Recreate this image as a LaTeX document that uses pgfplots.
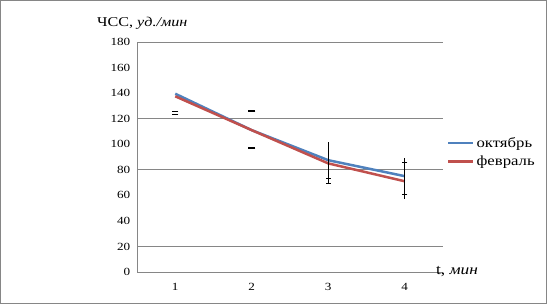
\documentclass[border=0pt]{standalone}
\usepackage{fontspec}
\setmainfont{Liberation Serif}[FakeStretch=1.2]
\usepackage{pgfplots}
\pgfplotsset{compat=1.18}
\definecolor{xlblue}{HTML}{4F81BD}
\definecolor{xlred}{HTML}{C0504D}
\definecolor{gridg}{HTML}{868686}
\begin{document}
\fontsize{10.5}{12}\selectfont
\begin{tikzpicture}[x=1bp,y=1bp]
\useasboundingbox (0,0) rectangle (547,304);
\draw[gridg, line width=1bp] (0.5,0.5) rectangle (546.5,303.5);
\begin{axis}[
  at={(137bp,32bp)}, anchor=origin,
  scale only axis, width=306bp, height=230bp,
  xmin=0.5, xmax=4.5, ymin=0, ymax=180,
  xtick={1,2,3,4}, ytick={0,20,...,180},
  extra y ticks={20,80,120,180}, extra y tick labels={},
  extra y tick style={grid=major, major grid style={gridg, line width=0.8bp}},
  axis x line*=bottom, axis y line*=left,
  axis line style={gridg, line width=0.8bp, -},
  major tick length=0pt,
  tick style={draw=none},
  /pgf/number format/assume math mode=true,
  ticklabel style={font=\fontsize{11}{13}\selectfont},
  xticklabel style={yshift=-8bp},
  yticklabel style={xshift=-3bp},
  clip=false,
  legend style={at={(1.013,0.52)}, anchor=west, draw=none, fill=none,
    font=\fontsize{14}{16}\selectfont, row sep=3bp, inner sep=0pt,
    /tikz/every even column/.append style={column sep=0pt}},
  legend cell align=left,
  legend image code/.code={\draw[#1, line width=2.4bp] (0bp,0bp) -- (25bp,0bp);},
]
\addplot[xlblue, line width=2.5bp] coordinates {(1,139.5) (2,111) (3,87.5) (4,75)};
\addlegendentry{октябрь}
\addplot[xlred, line width=2.5bp] coordinates {(1,137.5) (2,111) (3,85) (4,71)};
\addlegendentry{февраль}
\addplot[black, line width=0.9bp, forget plot] coordinates {(3,101.5) (3,69.4)};
\addplot[black, line width=0.9bp, forget plot] coordinates {(4,89) (4,56.9)};
\addplot[only marks, black, mark=-, mark size=2.7bp, mark options={line width=0.9bp}, forget plot]
  coordinates {(3,73.3) (3,69.4) (4,85.5) (4,60.8)};
\addplot[only marks, black, mark=-, mark size=3.5bp, mark options={line width=1.6bp}, forget plot]
  coordinates {(2,126) (2,97)};
\addplot[only marks, black, mark=-, mark size=3.2bp, mark options={line width=0.6bp}, forget plot]
  coordinates {(1,125.6) (1,123.4)};
\node[anchor=base west, font=\fontsize{13.5}{15}\selectfont, inner sep=0pt] at (rel axis cs:-0.131,1.068) {ЧСС, \textit{уд./мин}};
\node[anchor=west, font=\fontsize{14.5}{16}\selectfont, inner sep=0pt] at (rel axis cs:0.977,0.0) {t, \textit{мин}};
\end{axis}
\end{tikzpicture}
\end{document}
